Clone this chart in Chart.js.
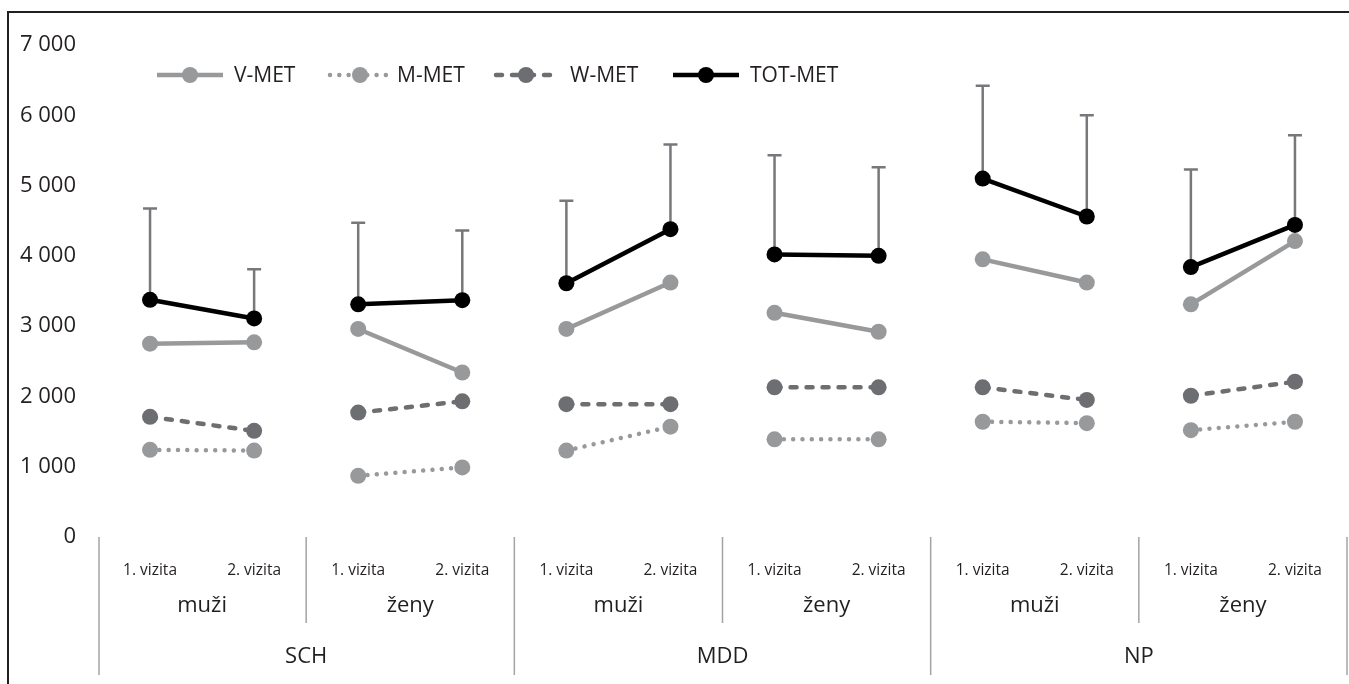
<!DOCTYPE html>
<html>
<head>
<meta charset="utf-8">
<script src="https://cdn.jsdelivr.net/npm/chart.js@4.4.1/dist/chart.umd.min.js"></script>
<style>
html,body{margin:0;padding:0;background:#fff;}
canvas{display:block;}
</style>
</head>
<body>
<canvas id="c" width="1349" height="684"></canvas>
<script>
// ---- data ----
const visitLabels = ['1. vizita','2. vizita','1. vizita','2. vizita','1. vizita','2. vizita','1. vizita','2. vizita','1. vizita','2. vizita','1. vizita','2. vizita'];
const sexLabels = ['muži','ženy','muži','ženy','muži','ženy'];
const groupLabels = ['SCH','MDD','NP'];
const seriesNames = ['V-MET','M-MET','W-MET','TOT-MET'];
const vMet   = [2750, 2770, 2960, 2340, 2960, 3620, 3190, 2920, 3950, 3620, 3310, 4210];
const mMet   = [1240, 1230,  870,  990, 1230, 1570, 1390, 1390, 1640, 1620, 1520, 1640];
const wMet   = [1710, 1510, 1770, 1930, 1890, 1890, 2130, 2130, 2130, 1950, 2010, 2210];
const totMet = [3375, 3110, 3310, 3370, 3610, 4380, 4020, 4000, 5100, 4560, 3840, 4440];
const totSd  = [1300,  700, 1160,  990, 1175, 1205, 1410, 1260, 1320, 1440, 1390, 1275];
const yTicks = [0, 1000, 2000, 3000, 4000, 5000, 6000, 7000];

const TXT = '#231f20';
const FONT = '"Open Sans", "DejaVu Sans", sans-serif';
const LIGHT = '#98999b';
const DARK = '#6d6e71';

function seg(color){
  return { borderColor: ctx => (ctx.p0DataIndex % 2 === 1 ? 'rgba(0,0,0,0)' : color) };
}
function ds(label, data, color, dash, order){
  return {
    label, data, order,
    borderColor: color, backgroundColor: color,
    pointBackgroundColor: color, pointBorderWidth: 0, pointRadius: 8, pointHoverRadius: 8,
    borderWidth: 4.5, borderDash: dash, borderCapStyle: dash.length ? 'round' : 'butt',
    tension: 0, fill: false, segment: seg(color)
  };
}

const datasets = [
  ds(seriesNames[0], vMet, LIGHT, [], 1),
  ds(seriesNames[1], mMet, LIGHT, [0.01, 9.3], 3),
  ds(seriesNames[2], wMet, DARK, [6, 10], 2),
  ds(seriesNames[3], totMet, '#000000', [], 0)
];

const fmt = v => String(v).replace(/\B(?=(\d{3})+(?!\d))/g, ' ');

const decor = {
  id: 'decor',
  beforeDatasetsDraw(chart){
    const ctx = chart.ctx, x = chart.scales.x, y = chart.scales.y;
    ctx.save();
    ctx.strokeStyle = '#77787b';
    ctx.lineWidth = 2.5;
    totMet.forEach((v, i) => {
      const px = x.getPixelForValue(i);
      const y0 = y.getPixelForValue(v);
      const y1 = y.getPixelForValue(v + totSd[i]);
      ctx.beginPath();
      ctx.moveTo(px, y0); ctx.lineTo(px, y1);
      ctx.moveTo(px - 7, y1); ctx.lineTo(px + 7, y1);
      ctx.stroke();
    });
    ctx.restore();
  },
  afterDraw(chart){
    const ctx = chart.ctx, x = chart.scales.x, area = chart.chartArea;
    const bottom = area.bottom;
    ctx.save();
    ctx.strokeStyle = TXT; ctx.lineWidth = 2;
    ctx.beginPath();
    ctx.moveTo(8, 684); ctx.lineTo(8, 12); ctx.lineTo(1349, 12);
    ctx.stroke();

    ctx.strokeStyle = '#a3a3a3'; ctx.lineWidth = 1.5;
    const n = visitLabels.length;
    for (let b = 0; b <= n; b += 2) {
      let bx;
      if (b === 0) bx = area.left + 1;
      else if (b === n) bx = area.right;
      else bx = (x.getPixelForValue(b - 1) + x.getPixelForValue(b)) / 2;
      const long = (b % 4 === 0);
      ctx.beginPath();
      ctx.moveTo(bx, bottom);
      ctx.lineTo(bx, bottom + (long ? 138 : 86));
      ctx.stroke();
    }

    ctx.fillStyle = TXT;
    ctx.textAlign = 'center';
    ctx.textBaseline = 'middle';
    ctx.font = '15.5px ' + FONT;
    visitLabels.forEach((t, i) => ctx.fillText(t, x.getPixelForValue(i), bottom + 34));
    ctx.font = '22px ' + FONT;
    sexLabels.forEach((t, j) => {
      const cx = (x.getPixelForValue(2*j) + x.getPixelForValue(2*j+1)) / 2;
      ctx.fillText(t, cx, bottom + 69);
    });
    groupLabels.forEach((t, k) => {
      const cx = (x.getPixelForValue(4*k) + x.getPixelForValue(4*k+3)) / 2;
      ctx.fillText(t, cx, bottom + 120);
    });

    const starts = [157, 327, 493, 673];
    const ly = area.top + 30;
    chart.data.datasets.forEach((d, i) => {
      const sx = starts[i];
      ctx.save();
      ctx.strokeStyle = d.borderColor;
      ctx.lineWidth = d.borderWidth;
      ctx.setLineDash(d.borderDash);
      ctx.lineCap = d.borderCapStyle;
      ctx.beginPath();
      if (d.borderDash.length) {
        ctx.moveTo(sx + 3, ly); ctx.lineTo(sx + 66, ly);
      } else {
        ctx.moveTo(sx, ly); ctx.lineTo(sx + 66, ly);
      }
      ctx.stroke();
      ctx.setLineDash([]);
      ctx.fillStyle = d.pointBackgroundColor;
      ctx.beginPath();
      ctx.arc(sx + 33, ly, 8, 0, Math.PI * 2);
      ctx.fill();
      ctx.restore();
      ctx.fillStyle = TXT;
      ctx.textAlign = 'left';
      ctx.font = '21px ' + FONT;
      ctx.fillText(d.label, sx + 66 + (i === 1 ? 4 : 11), ly + 1);
    });
    ctx.restore();
  }
};

new Chart(document.getElementById('c'), {
  type: 'line',
  data: { labels: visitLabels, datasets },
  options: {
    responsive: false,
    animation: false,
    events: [],
    layout: { autoPadding: false, padding: { left: 10, right: 2, top: 45, bottom: 147 } },
    plugins: { legend: { display: false }, tooltip: { enabled: false } },
    scales: {
      x: { type: 'category', offset: true, display: false },
      y: {
        min: 0, max: 7000,
        afterFit: s => { s.width = 88; },
        afterBuildTicks: s => { s.ticks = yTicks.map(v => ({ value: v })); },
        grid: { display: false, drawTicks: false },
        border: { display: false },
        ticks: {
          padding: 22, color: TXT,
          font: { family: FONT, size: 22 },
          callback: v => fmt(v)
        }
      }
    }
  },
  plugins: [decor]
});
</script>
</body>
</html>
